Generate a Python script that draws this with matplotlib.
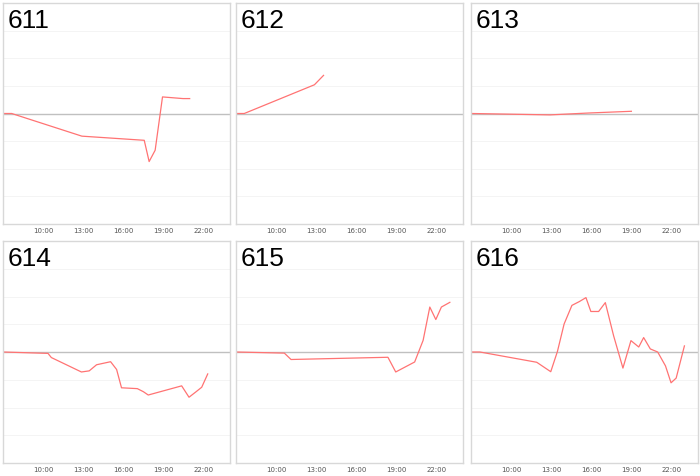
import pandas as pd
import matplotlib
matplotlib.use('Agg')
import matplotlib.pyplot as plt
import matplotlib.dates as mdates

# panel names
panels = ['611', '612', '613', '614', '615', '616']

# times and values per panel (values relative to start)
t_611 = ['07:00', '07:39', '12:54', '17:34', '17:56', '18:23', '18:56', '20:28', '20:58']
v_611 = [0, 0, -0.82, -0.97, -1.74, -1.33, 0.60, 0.54, 0.54]

t_612 = ['07:00', '07:37', '12:52', '13:33']
v_612 = [0, 0, 1.04, 1.38]

t_613 = ['07:03', '12:55', '15:54', '19:00']
v_613 = [0, -0.05, 0.02, 0.08]

t_614 = ['07:00', '10:22', '10:37', '12:52', '13:27', '14:00', '15:03', '15:30', '15:52',
         '17:03', '17:30', '17:52', '20:22', '20:55', '21:27', '21:52', '22:19']
v_614 = [0, -0.05, -0.2, -0.72, -0.68, -0.46, -0.35, -0.63, -1.29,
         -1.32, -1.43, -1.55, -1.22, -1.63, -1.43, -1.27, -0.79]

t_615 = ['07:00', '10:37', '11:07', '18:22', '18:57', '20:22', '21:00', '21:30', '21:57', '22:22', '23:00']
v_615 = [0, -0.04, -0.27, -0.19, -0.72, -0.36, 0.42, 1.62, 1.17, 1.62, 1.79]

t_616 = ['07:03', '07:40', '11:55', '12:58', '13:28', '13:58', '14:33', '15:07', '15:36', '15:58',
         '16:33', '17:03', '17:40', '18:22', '18:58', '19:33', '19:55', '20:25', '20:58', '21:33',
         '21:58', '22:21', '22:58']
v_616 = [0, 0, -0.37, -0.71, 0.02, 1.01, 1.68, 1.82, 1.96, 1.46,
         1.46, 1.78, 0.59, -0.58, 0.41, 0.18, 0.52, 0.11, 0.0, -0.5,
         -1.11, -0.94, 0.22]

series = {'611': (t_611, v_611), '612': (t_612, v_612), '613': (t_613, v_613),
          '614': (t_614, v_614), '615': (t_615, v_615), '616': (t_616, v_616)}

tick_labels = ['10:00', '13:00', '16:00', '19:00', '22:00']
day = '2024-01-01 '


def to_dt(times):
    return pd.to_datetime([day + t for t in times])


fig = plt.figure(figsize=(7.0, 4.76), dpi=100)
W, H = 700, 476
col_x = [3, 236, 471]
row_y = [(3, 224), (241, 463)]

for i, name in enumerate(panels):
    r, c = divmod(i, 3)
    x0 = col_x[c]
    top, bot = row_y[r]
    ax = fig.add_axes([x0 / W, 1 - bot / H, 227 / W, (bot - top) / H])

    times, vals = series[name]
    ax.set_xlim(pd.Timestamp(day + '07:00'), pd.Timestamp(day + '23:59'))
    ax.set_ylim(-4, 4)

    for g in [-3, -2, -1, 1, 2, 3]:
        ax.axhline(g, color='#f4f4f4', lw=0.7, zorder=0)
    ax.axhline(0, color='#c0c0c0', lw=1.0, zorder=1)
    ax.plot(to_dt(times), vals, color='#ff7373', lw=0.9, zorder=2)

    ax.set_xticks(to_dt(tick_labels))
    ax.xaxis.set_major_formatter(mdates.DateFormatter('%H:%M'))
    ax.tick_params(axis='x', length=0, pad=3, labelsize=5, labelcolor='#555555')
    ax.set_yticks([])
    for s in ax.spines.values():
        s.set_color('#d8d8d8')
        s.set_linewidth(1.0)

    ax.text(0.02, 0.975, name, transform=ax.transAxes, ha='left', va='top',
            fontsize=19, family='Liberation Sans', color='black')

fig.savefig('out.png', dpi=100)
